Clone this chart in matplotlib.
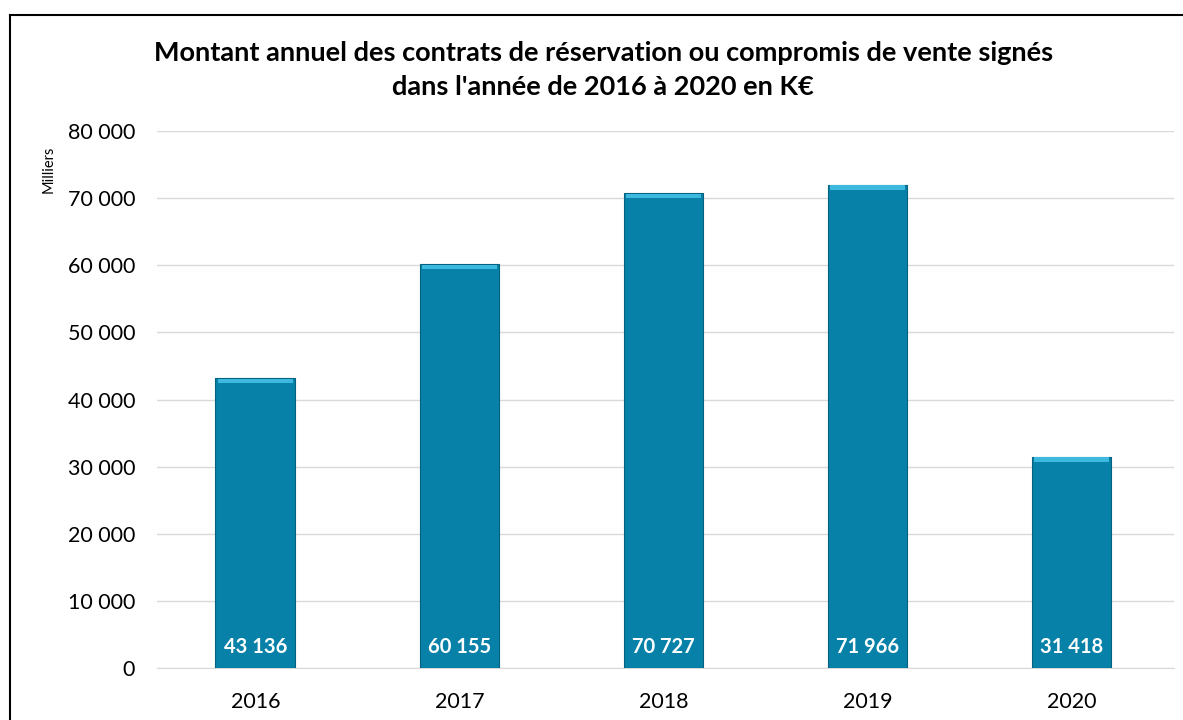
import matplotlib.pyplot as plt
from matplotlib.lines import Line2D

# === DONNEES ===
annees = ["2016", "2017", "2018", "2019", "2020"]
montants = [43136, 60155, 70727, 71966, 31418]
etiquettes = ["43 136", "60 155", "70 727", "71 966", "31 418"]
graduations = [0, 10000, 20000, 30000, 40000, 50000, 60000, 70000, 80000]

plt.rcParams["font.family"] = ["Lato", "DejaVu Sans"]

fig = plt.figure(figsize=(11.83, 7.2), dpi=100)
ax = fig.add_axes([0.133, 0.0722, 0.859, 0.7458])

x = list(range(len(annees)))
couleur = "#0781A8"

# barres principales + petit biseau clair en haut
ax.bar(x, montants, width=0.39, color=couleur, edgecolor="#05617F", linewidth=0.8, zorder=3)
ax.bar(x, [650] * len(montants), width=0.37, bottom=[m - 700 for m in montants],
       color="#3DB9E0", linewidth=0, zorder=4)

for xi, lab in zip(x, etiquettes):
    ax.annotate(lab, (xi, 0), xytext=(0, 15), textcoords="offset points",
                ha="center", va="center", color="white", fontsize=14.5,
                fontweight="bold", zorder=5)

ax.set_xlim(-0.48, 4.5)
ax.set_ylim(0, 80000)
ax.set_yticks(graduations)
ax.set_yticklabels([f"{g:,}".replace(",", " ") for g in graduations], fontsize=15.5)
ax.set_xticks(x)
ax.set_xticklabels(annees, fontsize=15.5)
ax.tick_params(axis="y", length=0, pad=16)
ax.tick_params(axis="x", length=0, pad=17)
ax.grid(axis="y", color="#D9D9D9", linewidth=1, zorder=0)
for s in ["top", "right", "left"]:
    ax.spines[s].set_visible(False)
ax.spines["bottom"].set_color("#D9D9D9")

fig.text(0.041, 0.765, "Milliers", rotation=90, fontsize=10.5, ha="center", va="center")

fig.text(0.510, 0.927, "Montant annuel des contrats de réservation ou compromis de vente signés",
         ha="center", va="center", fontsize=19.5, fontweight="bold")
fig.text(0.510, 0.879, "dans l'année de 2016 à 2020 en K€",
         ha="center", va="center", fontsize=19.5, fontweight="bold")

# cadre
fig.add_artist(Line2D([0.0085, 1.0], [0.979, 0.979], color="black", linewidth=1.5))
fig.add_artist(Line2D([0.0085, 0.0085], [0.0, 0.979], color="black", linewidth=1.5))

fig.savefig("out.png", dpi=100)
